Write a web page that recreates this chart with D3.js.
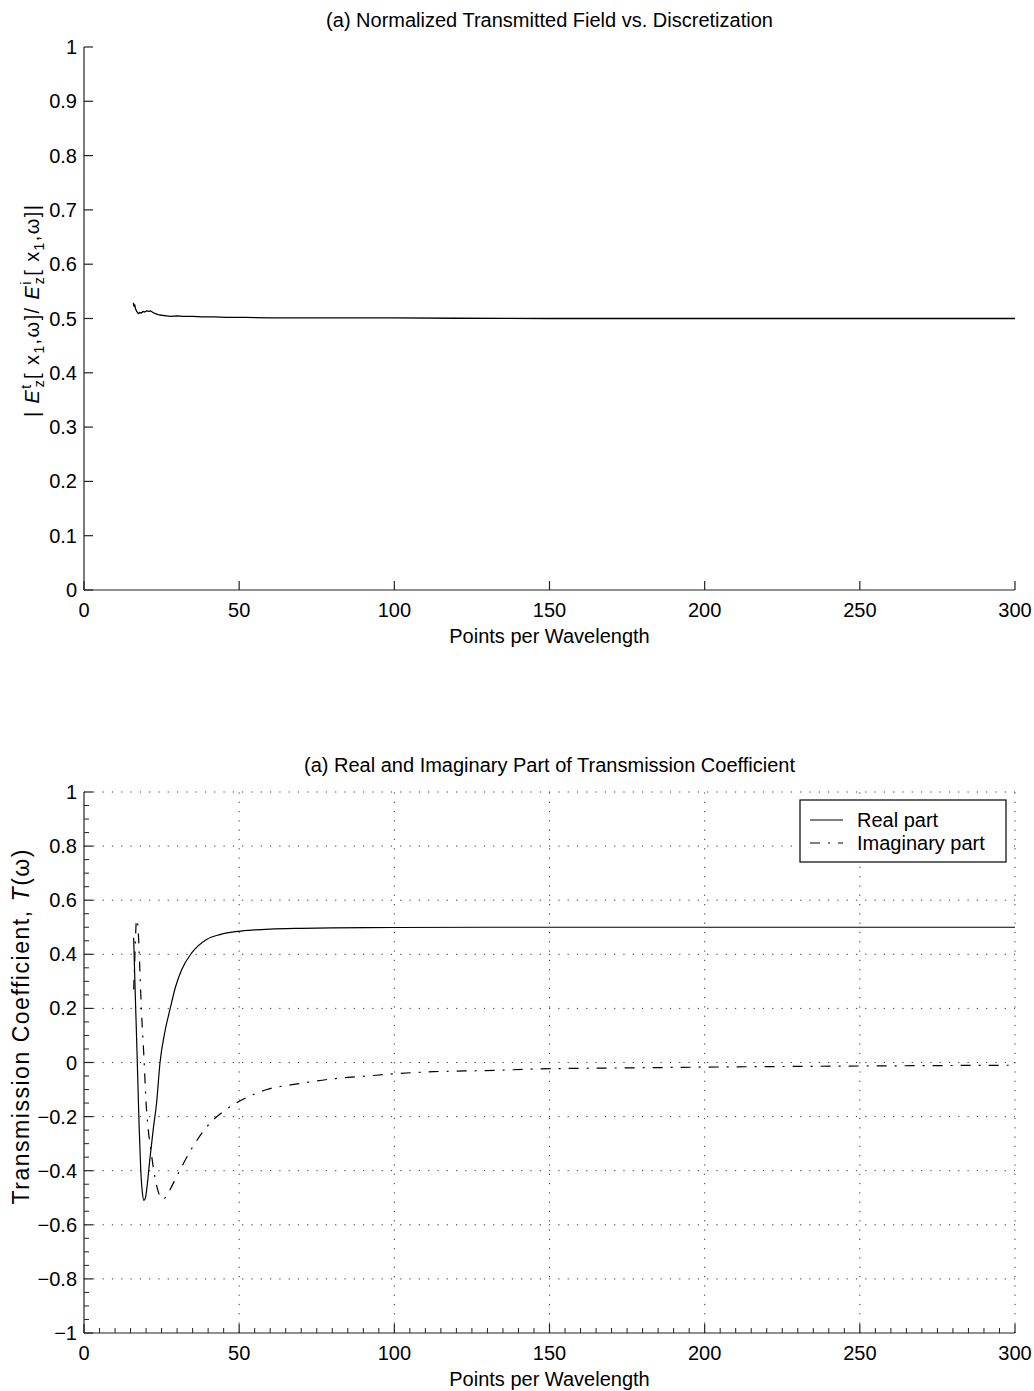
<!DOCTYPE html>
<html>
<head>
<meta charset="utf-8">
<script src="https://cdn.jsdelivr.net/npm/d3@7"></script>
<style>
  html, body { margin: 0; padding: 0; background: #fff; }
  svg text { font-family: "Liberation Sans", Arial, Helvetica, sans-serif; fill: #000; }
</style>
</head>
<body>
<svg id="chart" width="1034" height="1391"></svg>
<script>
// ---------- DATA ----------
const xTickValues = [0, 50, 100, 150, 200, 250, 300];
const xTickLabels = ["0", "50", "100", "150", "200", "250", "300"];
const topYTickValues = [0, 0.1, 0.2, 0.3, 0.4, 0.5, 0.6, 0.7, 0.8, 0.9, 1];
const topYTickLabels = ["0", "0.1", "0.2", "0.3", "0.4", "0.5", "0.6", "0.7", "0.8", "0.9", "1"];
const botYTickValues = [-1, -0.8, -0.6, -0.4, -0.2, 0, 0.2, 0.4, 0.6, 0.8, 1];
const botYTickLabels = ["\u22121", "\u22120.8", "\u22120.6", "\u22120.4", "\u22120.2", "0", "0.2", "0.4", "0.6", "0.8", "1"];

// (a) normalized transmitted field |Et/Ei| vs points per wavelength
const fieldX = [15.9, 16.1, 16.3, 16.6, 17.0, 17.5, 18.0, 18.5, 19.0, 19.5, 20.2, 21.0, 21.5, 22.2, 23.0, 23.9, 25.0, 26.6, 28, 30, 32, 35, 38, 42, 46, 52, 60, 70, 80, 90, 100, 120, 150, 180, 220, 260, 300];
const fieldY = [0.529, 0.522, 0.526, 0.518, 0.513, 0.509, 0.511, 0.510, 0.513, 0.512, 0.514, 0.513, 0.514, 0.511, 0.509, 0.507, 0.506, 0.505, 0.504, 0.505, 0.504, 0.504, 0.503, 0.503, 0.502, 0.502, 0.501, 0.501, 0.501, 0.501, 0.501, 0.5005, 0.5, 0.5, 0.5, 0.5, 0.5];

// (b) transmission coefficient, real part
const realX = [16.0, 16.5, 17.0, 17.5, 17.8, 18.3, 18.8, 19.3, 19.8, 20.4, 21.2, 22.3, 23.4, 24.5, 26.0, 27.7, 29.5, 31.5, 34.7, 39.5, 43.8, 49.7, 55, 60, 70, 80, 100, 130, 160, 200, 250, 300];
const realY = [0.461, 0.26, 0.07, -0.13, -0.248, -0.40, -0.48, -0.51, -0.50, -0.45, -0.36, -0.248, -0.148, 0.0, 0.11, 0.196, 0.28, 0.344, 0.405, 0.455, 0.473, 0.485, 0.490, 0.493, 0.496, 0.498, 0.499, 0.5, 0.5, 0.5, 0.5, 0.5];

// (b) transmission coefficient, imaginary part
const imagX = [16.0, 16.3, 16.6, 16.9, 17.2, 17.5, 18.0, 18.5, 19.3, 20.0, 20.7, 21.5, 22.5, 23.5, 24.5, 25.5, 26.5, 27.3, 28.3, 31, 35.2, 40.7, 45, 49.2, 58.9, 69.6, 80.3, 91.1, 99.7, 112.6, 128.7, 150.2, 175, 200, 250, 300];
const imagY = [0.27, 0.36, 0.46, 0.528, 0.52, 0.48, 0.344, 0.196, 0.023, -0.148, -0.248, -0.32, -0.40, -0.46, -0.495, -0.505, -0.495, -0.48, -0.457, -0.396, -0.309, -0.223, -0.18, -0.149, -0.10, -0.078, -0.06, -0.05, -0.042, -0.034, -0.03, -0.023, -0.02, -0.017, -0.013, -0.01];

const legendLabels = ["Real part", "Imaginary part"];

// ---------- DRAW ----------
const svg = d3.select("#chart");
const FS = 20;
const AXC = "#222";

const x = d3.scaleLinear().domain([0, 300]).range([84, 1015]);
const yTop = d3.scaleLinear().domain([0, 1]).range([590, 47]);
const yBot = d3.scaleLinear().domain([-1, 1]).range([1333, 792]);

function drawAxes(y, yVals, yLabs, opts) {
  const g = svg.append("g");
  const [y0, y1] = y.range();
  const [x0, x1] = x.range();
  if (opts.grid) {
    const gg = g.append("g").attr("stroke", "#333").attr("stroke-width", 1).attr("stroke-dasharray", "1.2,8.1");
    xTickValues.filter(v => v > 0).forEach(v => {
      gg.append("line").attr("x1", x(v)).attr("x2", x(v)).attr("y1", y0).attr("y2", y1);
    });
    yVals.filter(v => v > y.domain()[0]).forEach(v => {
      gg.append("line").attr("x1", x0).attr("x2", x1).attr("y1", y(v)).attr("y2", y(v));
    });
  }
  if (opts.minor) {
    const mg = g.append("g").attr("stroke", AXC).attr("stroke-width", 1);
    d3.range(0, 301, 5).filter(v => v % 50 !== 0).forEach(v => {
      mg.append("line").attr("x1", x(v)).attr("x2", x(v)).attr("y1", y0).attr("y2", y0 - 5);
    });
    const [d0, d1] = y.domain();
    for (let k = 0; k <= Math.round((d1 - d0) / 0.05); k++) {
      if (k % 4 === 0) continue;
      const v = d0 + k * 0.05;
      mg.append("line").attr("x1", x0).attr("x2", x0 + 5).attr("y1", y(v)).attr("y2", y(v));
    }
  }
  g.append("line").attr("x1", x0).attr("x2", x1).attr("y1", y0).attr("y2", y0).attr("stroke", AXC).attr("stroke-width", 1.2);
  g.append("line").attr("x1", x0).attr("x2", x0).attr("y1", y0).attr("y2", y1).attr("stroke", AXC).attr("stroke-width", 1.2);
  xTickValues.forEach((v, i) => {
    g.append("line").attr("x1", x(v)).attr("x2", x(v)).attr("y1", y0).attr("y2", y0 - 9).attr("stroke", AXC).attr("stroke-width", 1.2);
    g.append("text").attr("x", x(v)).attr("y", y0 + 27).attr("text-anchor", "middle").attr("font-size", FS).text(xTickLabels[i]);
  });
  yVals.forEach((v, i) => {
    g.append("line").attr("x1", x0).attr("x2", x0 + 9).attr("y1", y(v)).attr("y2", y(v)).attr("stroke", AXC).attr("stroke-width", 1.2);
    g.append("text").attr("x", x0 - 7).attr("y", y(v) + 7).attr("text-anchor", "end").attr("font-size", FS).text(yLabs[i]);
  });
  g.append("text").attr("x", (x0 + x1) / 2).attr("y", y0 + 53).attr("text-anchor", "middle").attr("font-size", FS).text("Points per Wavelength");
  g.append("text").attr("x", (x0 + x1) / 2).attr("y", y1 - 20).attr("text-anchor", "middle").attr("font-size", FS).text(opts.title);
  return g;
}

// ---- top panel ----
drawAxes(yTop, topYTickValues, topYTickLabels, { grid: false, minor: false, title: "(a) Normalized Transmitted Field vs. Discretization" });

const fieldData = fieldX.map((v, i) => [v, fieldY[i]]);
svg.append("path").datum(fieldData)
  .attr("fill", "none").attr("stroke", "#000").attr("stroke-width", 1.3)
  .attr("d", d3.line().x(d => x(d[0])).y(d => yTop(d[1])));

// top y label
{
  const t = svg.append("text").attr("font-size", FS)
    .attr("transform", `translate(39,311) rotate(-90)`)
    .attr("text-anchor", "middle")
    .attr("textLength", 212).attr("lengthAdjust", "spacing");
  t.append("tspan").text("| ");
  t.append("tspan").attr("font-style", "italic").text("E");
  t.append("tspan").attr("font-size", 14).attr("dy", -8).text("t");
  t.append("tspan").attr("font-size", 14).attr("dx", -4).attr("dy", 13).text("z");
  t.append("tspan").attr("dy", -5).text("[ x");
  t.append("tspan").attr("font-size", 14).attr("dy", 5).text("1");
  t.append("tspan").attr("dy", -5).text(",\u03c9]/ ");
  t.append("tspan").attr("font-style", "italic").text("E");
  t.append("tspan").attr("font-size", 14).attr("dy", -8).text("i");
  t.append("tspan").attr("font-size", 14).attr("dx", -4).attr("dy", 13).text("z");
  t.append("tspan").attr("dy", -5).text("[ x");
  t.append("tspan").attr("font-size", 14).attr("dy", 5).text("1");
  t.append("tspan").attr("dy", -5).text(",\u03c9]|");
}

// ---- bottom panel ----
drawAxes(yBot, botYTickValues, botYTickLabels, { grid: true, minor: true, title: "(a) Real and Imaginary Part of Transmission Coefficient" });

const realData = realX.map((v, i) => [v, realY[i]]);
const imagData = imagX.map((v, i) => [v, imagY[i]]);
const lineB = d3.line().x(d => x(d[0])).y(d => yBot(d[1])).curve(d3.curveMonotoneX);
svg.append("path").datum(realData)
  .attr("fill", "none").attr("stroke", "#000").attr("stroke-width", 1.2).attr("d", lineB);
svg.append("path").datum(imagData)
  .attr("fill", "none").attr("stroke", "#000").attr("stroke-width", 1.2)
  .attr("stroke-dasharray", "10,8,2,8").attr("d", lineB);

// bottom y label
{
  const t = svg.append("text").attr("font-size", 23)
    .attr("transform", `translate(29,1027) rotate(-90)`)
    .attr("text-anchor", "middle")
    .attr("textLength", 355).attr("lengthAdjust", "spacing");
  t.append("tspan").text("Transmission Coefficient,  ");
  t.append("tspan").attr("font-style", "italic").text("T");
  t.append("tspan").text("(\u03c9)");
}

// legend
{
  const lx0 = 800, lx1 = 1006, ly0 = 800, ly1 = 862;
  const lg = svg.append("g");
  lg.append("rect").attr("x", lx0).attr("y", ly0).attr("width", lx1 - lx0).attr("height", ly1 - ly0)
    .attr("fill", "#fff").attr("stroke", "#000").attr("stroke-width", 1.2);
  const rows = [820, 843];
  const dashes = [null, "10,8,2,8"];
  legendLabels.forEach((lab, i) => {
    const ln = lg.append("line").attr("x1", 810).attr("x2", 843).attr("y1", rows[i]).attr("y2", rows[i])
      .attr("stroke", "#000").attr("stroke-width", 1.2);
    if (dashes[i]) ln.attr("stroke-dasharray", dashes[i]);
    lg.append("text").attr("x", 857).attr("y", rows[i] + 7).attr("font-size", FS).text(lab);
  });
}
</script>
</body>
</html>
